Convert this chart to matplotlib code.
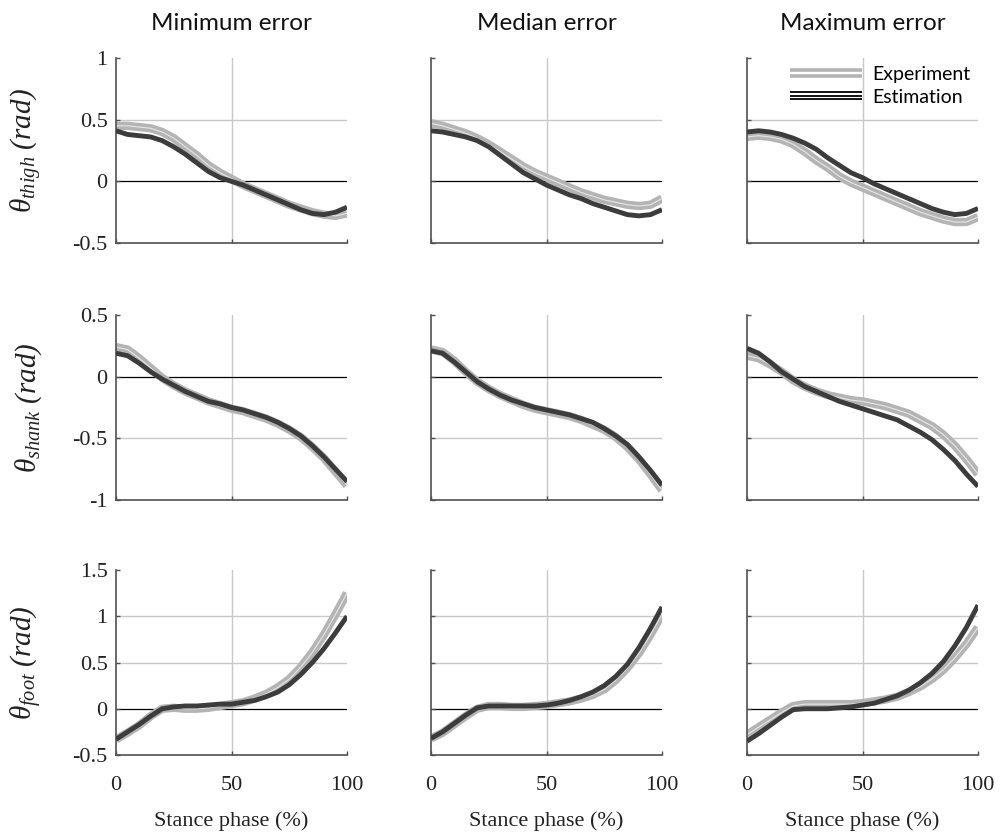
import matplotlib
matplotlib.use("Agg")
import matplotlib.pyplot as plt
from matplotlib.lines import Line2D
from matplotlib.legend_handler import HandlerBase
import numpy as np

# ---------------- data ----------------
phase = [0, 5, 10, 15, 20, 25, 30, 35, 40, 45, 50, 55, 60, 65, 70, 75, 80, 85, 90, 95, 100]

col_titles = ["Minimum error", "Median error", "Maximum error"]
row_labels = [r"$\theta_{thigh}\ (rad)$", r"$\theta_{shank}\ (rad)$", r"$\theta_{foot}\ (rad)$"]
xlabel_text = "Stance phase (%)"

# thigh
thigh_min_exp = [0.45, 0.45, 0.44, 0.43, 0.40, 0.35, 0.28, 0.21, 0.13, 0.07, 0.02, -0.03, -0.07, -0.11, -0.15, -0.19, -0.22, -0.25, -0.27, -0.28, -0.26]
thigh_min_est = [0.41, 0.38, 0.37, 0.36, 0.33, 0.28, 0.22, 0.15, 0.08, 0.03, 0.00, -0.03, -0.07, -0.11, -0.15, -0.19, -0.23, -0.26, -0.27, -0.25, -0.21]
thigh_med_exp = [0.47, 0.45, 0.42, 0.39, 0.35, 0.30, 0.24, 0.18, 0.12, 0.07, 0.03, -0.01, -0.05, -0.09, -0.12, -0.15, -0.17, -0.19, -0.20, -0.19, -0.14]
thigh_med_est = [0.41, 0.40, 0.38, 0.36, 0.33, 0.28, 0.21, 0.14, 0.07, 0.02, -0.03, -0.07, -0.11, -0.14, -0.18, -0.21, -0.24, -0.27, -0.28, -0.27, -0.23]
thigh_max_exp = [0.36, 0.37, 0.36, 0.34, 0.30, 0.24, 0.17, 0.11, 0.04, -0.01, -0.05, -0.09, -0.13, -0.17, -0.21, -0.25, -0.28, -0.31, -0.33, -0.33, -0.29]
thigh_max_est = [0.40, 0.41, 0.40, 0.38, 0.35, 0.31, 0.26, 0.19, 0.13, 0.07, 0.03, -0.02, -0.06, -0.10, -0.14, -0.18, -0.22, -0.25, -0.27, -0.26, -0.22]

# shank
shank_min_exp = [0.24, 0.22, 0.15, 0.07, -0.01, -0.07, -0.12, -0.16, -0.20, -0.23, -0.26, -0.28, -0.31, -0.34, -0.38, -0.43, -0.49, -0.57, -0.66, -0.77, -0.88]
shank_min_est = [0.19, 0.17, 0.11, 0.04, -0.02, -0.07, -0.12, -0.16, -0.20, -0.22, -0.25, -0.27, -0.30, -0.33, -0.37, -0.42, -0.48, -0.56, -0.65, -0.75, -0.85]
shank_med_exp = [0.22, 0.20, 0.13, 0.04, -0.04, -0.10, -0.15, -0.19, -0.23, -0.26, -0.28, -0.30, -0.32, -0.35, -0.39, -0.43, -0.49, -0.57, -0.67, -0.79, -0.92]
shank_med_est = [0.21, 0.19, 0.12, 0.04, -0.04, -0.10, -0.15, -0.19, -0.22, -0.25, -0.27, -0.29, -0.31, -0.34, -0.37, -0.42, -0.48, -0.55, -0.65, -0.76, -0.88]
shank_max_exp = [0.17, 0.15, 0.10, 0.04, -0.03, -0.08, -0.12, -0.15, -0.17, -0.19, -0.20, -0.22, -0.24, -0.27, -0.30, -0.35, -0.40, -0.47, -0.56, -0.67, -0.79]
shank_max_est = [0.23, 0.19, 0.12, 0.04, -0.02, -0.08, -0.12, -0.16, -0.20, -0.23, -0.26, -0.29, -0.32, -0.35, -0.40, -0.45, -0.51, -0.59, -0.68, -0.79, -0.89]

# foot
foot_min_exp = [-0.33, -0.26, -0.18, -0.08, 0.00, 0.01, 0.00, 0.00, 0.01, 0.03, 0.05, 0.07, 0.11, 0.16, 0.23, 0.32, 0.45, 0.61, 0.80, 1.02, 1.25]
foot_min_est = [-0.33, -0.25, -0.17, -0.08, 0.00, 0.02, 0.03, 0.03, 0.04, 0.05, 0.05, 0.07, 0.09, 0.13, 0.18, 0.26, 0.37, 0.50, 0.65, 0.82, 1.00]
foot_med_exp = [-0.32, -0.26, -0.17, -0.08, 0.00, 0.03, 0.03, 0.02, 0.02, 0.03, 0.04, 0.06, 0.08, 0.11, 0.15, 0.21, 0.31, 0.44, 0.60, 0.80, 1.02]
foot_med_est = [-0.32, -0.25, -0.16, -0.07, 0.01, 0.03, 0.03, 0.03, 0.03, 0.03, 0.04, 0.06, 0.09, 0.13, 0.18, 0.25, 0.35, 0.48, 0.66, 0.87, 1.10]
foot_max_exp = [-0.28, -0.20, -0.12, -0.04, 0.03, 0.05, 0.05, 0.05, 0.05, 0.05, 0.06, 0.08, 0.10, 0.13, 0.18, 0.24, 0.32, 0.42, 0.55, 0.70, 0.88]
foot_max_est = [-0.35, -0.27, -0.18, -0.09, -0.01, 0.00, 0.00, 0.00, 0.01, 0.02, 0.04, 0.06, 0.10, 0.14, 0.20, 0.28, 0.38, 0.51, 0.68, 0.88, 1.12]

experiment = [[thigh_min_exp, thigh_med_exp, thigh_max_exp],
              [shank_min_exp, shank_med_exp, shank_max_exp],
              [foot_min_exp, foot_med_exp, foot_max_exp]]
estimation = [[thigh_min_est, thigh_med_est, thigh_max_est],
              [shank_min_est, shank_med_est, shank_max_est],
              [foot_min_est, foot_med_est, foot_max_est]]

y_limits = [(-0.5, 1.0), (-1.0, 0.5), (-0.5, 1.5)]
y_ticks = [[-0.5, 0, 0.5, 1], [-1, -0.5, 0, 0.5], [-0.5, 0, 0.5, 1, 1.5]]
y_ticklabels = [["-0.5", "0", "0.5", "1"], ["-1", "-0.5", "0", "0.5"], ["-0.5", "0", "0.5", "1", "1.5"]]
x_ticks = [0, 50, 100]
x_ticklabels = ["0", "50", "100"]

legend_labels = ["Experiment", "Estimation"]

# ---------------- style ----------------
plt.rcParams['mathtext.fontset'] = 'custom'
plt.rcParams['mathtext.it'] = 'Liberation Serif:italic'
plt.rcParams['mathtext.rm'] = 'Liberation Serif:italic'
plt.rcParams['mathtext.default'] = 'it'

SERIF = 'Liberation Serif'
SANS = 'Lato'
EXP_COLOR = '#b4b4b4'
EST_COLOR = '#3c3c3c'
SPINE_COLOR = '#505050'
GRID_COLOR = '#c8c8c8'

fig = plt.figure(figsize=(10.06, 8.39), dpi=100)
W, H = 1006, 839
col_left = [116, 431, 747]
col_w = 231
row_top = [58, 315, 570]
row_h = 185


class MultiLineHandler(HandlerBase):
    def __init__(self, n, color, lw, spacing):
        super().__init__()
        self.n = n
        self.color = color
        self.lw = lw
        self.spacing = spacing

    def create_artists(self, legend, orig_handle, xdescent, ydescent,
                       width, height, fontsize, trans):
        arts = []
        yc = height / 2.0 - ydescent
        offs = (np.arange(self.n) - (self.n - 1) / 2.0) * self.spacing
        for o in offs:
            ln = Line2D([-xdescent, width - xdescent], [yc + o, yc + o],
                        color=self.color, lw=self.lw, solid_capstyle='butt')
            ln.set_transform(trans)
            arts.append(ln)
        return arts


axes = []
for r in range(3):
    for c in range(3):
        ax = fig.add_axes([col_left[c] / W, 1 - (row_top[r] + row_h) / H, col_w / W, row_h / H])
        axes.append(ax)
        ax.set_xlim(0, 100)
        ax.set_ylim(*y_limits[r])
        # grid lines (gray) and zero line (black)
        for yt in y_ticks[r]:
            if yt == 0:
                ax.axhline(0, color='black', lw=0.9, zorder=1)
            elif y_limits[r][0] < yt < y_limits[r][1]:
                ax.axhline(yt, color=GRID_COLOR, lw=1.0, zorder=0)
        ax.axvline(50, color=GRID_COLOR, lw=1.0, zorder=0)

        exp = experiment[r][c]
        est = estimation[r][c]
        ax.plot(phase, exp, color=EXP_COLOR, lw=6, solid_capstyle='butt', zorder=2)
        ax.plot(phase, exp, color='#e6e6e6', lw=0.8, zorder=2.1)
        ax.plot(phase, est, color=EST_COLOR, lw=3.5, solid_capstyle='butt', zorder=3)

        for s in ['top', 'right']:
            ax.spines[s].set_visible(False)
        for s in ['left', 'bottom']:
            ax.spines[s].set_color(SPINE_COLOR)
            ax.spines[s].set_linewidth(1.2)
        ax.set_xticks(x_ticks)
        ax.set_yticks(y_ticks[r])
        ax.tick_params(direction='in', length=3, width=1.0, color=SPINE_COLOR,
                       labelsize=16, labelcolor='#222222')
        ax.tick_params(axis='x', pad=15)
        ax.tick_params(axis='y', pad=6)
        if c == 0:
            ax.set_yticklabels(y_ticklabels[r], fontfamily=SERIF)
            ax.set_ylabel(row_labels[r], fontsize=21, color='#222222')
            ax.yaxis.set_label_coords(-0.31, 0.5)
        else:
            ax.set_yticklabels([])
        if r == 2:
            ax.set_xticklabels(x_ticklabels, fontfamily=SERIF)
            ax.set_xlabel(xlabel_text, fontfamily=SERIF, fontsize=16, color='#222222', labelpad=12)
        else:
            ax.set_xticklabels([])
        if r == 0:
            ax.set_title(col_titles[c], fontfamily=SANS, fontsize=17.5, pad=20, color='#111111')

# legend in top-right panel
ax_leg = axes[2]
h_exp = Line2D([], [], color=EXP_COLOR)
h_est = Line2D([], [], color='black')
ax_leg.legend([h_exp, h_est], legend_labels,
              handler_map={h_exp: MultiLineHandler(2, EXP_COLOR, 2.6, 4.0),
                           h_est: MultiLineHandler(3, '#111111', 1.4, 2.4)},
              loc='upper right', bbox_to_anchor=(1.0, 1.0), frameon=False,
              prop={'family': SANS, 'size': 14}, handlelength=3.7,
              handletextpad=0.5, labelspacing=0.3, borderaxespad=0.0)

fig.savefig("out.png", dpi=100)
